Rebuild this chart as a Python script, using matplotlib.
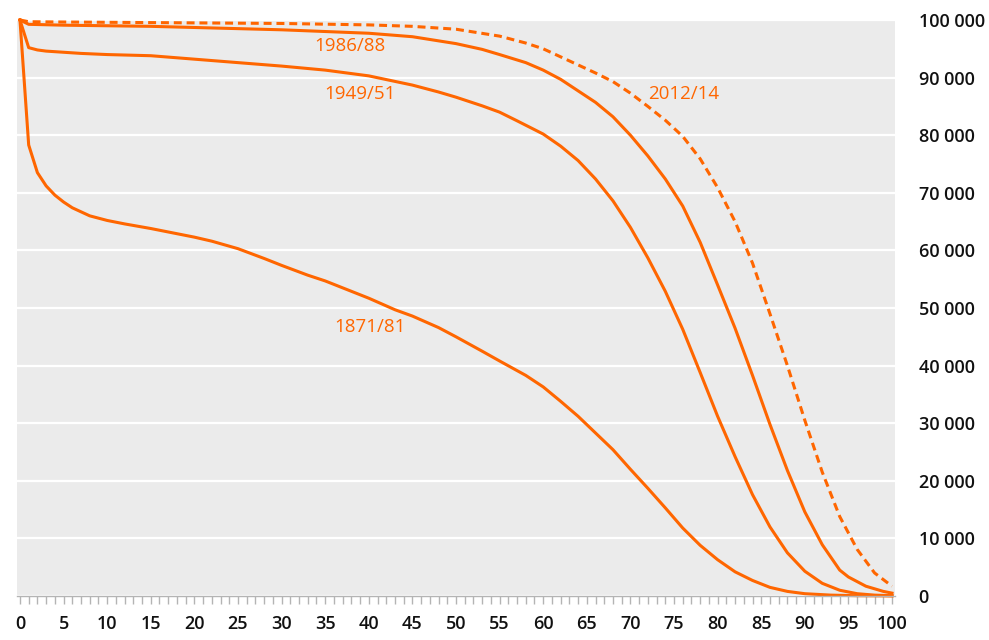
import matplotlib
matplotlib.use("Agg")
import matplotlib.pyplot as plt
from matplotlib.ticker import MultipleLocator, FuncFormatter

# ---- data (survivors out of 100 000 births) ----
ages_1871 = [0, 1, 2, 3, 4, 5, 6, 8, 10, 12, 15, 18, 20, 22, 25, 28, 30, 33, 35, 38, 40,
             43, 45, 48, 50, 53, 55, 58, 60, 62, 64, 66, 68, 70, 72, 74, 76, 78, 80,
             82, 84, 86, 88, 90, 93, 96, 100]
surv_1871 = [100000, 78300, 73500, 71200, 69600, 68400, 67400, 66000, 65200, 64600,
             63800, 62900, 62300, 61600, 60300, 58600, 57400, 55700, 54700, 52900,
             51700, 49700, 48600, 46600, 45000, 42500, 40800, 38300, 36300, 33800,
             31200, 28300, 25400, 22000, 18700, 15300, 11800, 8800, 6300, 4200, 2700,
             1500, 800, 400, 150, 50, 10]

ages_1949 = [0, 1, 2, 3, 5, 7, 10, 15, 20, 25, 30, 35, 40, 45, 48, 50, 53, 55, 57, 60,
             62, 64, 66, 68, 70, 72, 74, 76, 78, 80, 82, 84, 86, 88, 90, 92, 94, 96,
             98, 100]
surv_1949 = [100000, 95200, 94800, 94600, 94400, 94200, 94000, 93800, 93200, 92600,
             92000, 91300, 90300, 88700, 87500, 86600, 85100, 84000, 82500, 80200,
             78100, 75600, 72400, 68600, 64000, 58700, 52900, 46300, 38800, 31200,
             24200, 17600, 12000, 7500, 4300, 2200, 1000, 400, 150, 50]

ages_1986 = [0, 1, 5, 10, 15, 20, 25, 30, 35, 40, 45, 50, 53, 55, 58, 60, 62, 64, 66,
             68, 70, 72, 74, 76, 78, 80, 82, 84, 86, 88, 90, 92, 94, 95, 97, 99, 100]
surv_1986 = [100000, 99250, 99100, 99000, 98900, 98700, 98500, 98300, 98000, 97700,
             97100, 95900, 94900, 94000, 92600, 91300, 89700, 87700, 85700, 83200,
             80000, 76400, 72400, 67700, 61400, 54000, 46500, 38300, 29800, 21800,
             14600, 8900, 4500, 3300, 1700, 800, 500]

ages_2012 = [0, 1, 5, 10, 20, 30, 40, 45, 50, 55, 58, 60, 62, 64, 66, 68, 70, 72, 74,
             76, 78, 80, 82, 84, 86, 88, 90, 92, 94, 96, 98, 100]
surv_2012 = [100000, 99700, 99650, 99600, 99500, 99400, 99150, 98900, 98400, 97200,
             96000, 95000, 93600, 92200, 90800, 89300, 87300, 85000, 82600, 79800,
             75900, 70900, 65000, 57800, 49000, 40000, 30500, 21500, 13800, 8100,
             4000, 1700]

labels = ["1871/81", "1949/51", "1986/88", "2012/14"]
label_pos = [(370, 327), (360, 94), (350, 46), (684, 94)]  # pixel centres

ORANGE = "#ff6600"
BG = "#ebebeb"

W, H = 989, 640
fig = plt.figure(figsize=(W / 100, H / 100), dpi=100)
ax = fig.add_axes([17 / W, 1 - 596 / H, (895 - 17) / W, (596 - 20) / H])
ax.set_facecolor(BG)
ax.set_xlim(-0.34, 100.34)
ax.set_ylim(0, 100000)

ax.yaxis.set_major_locator(MultipleLocator(10000))
ax.grid(axis="y", color="white", linewidth=1.6)
ax.set_axisbelow(True)

lw = 2.2
ax.plot(ages_1871, surv_1871, color=ORANGE, lw=lw, clip_on=False, solid_joinstyle="round")
ax.plot(ages_1949, surv_1949, color=ORANGE, lw=lw, clip_on=False, solid_joinstyle="round")
ax.plot(ages_1986, surv_1986, color=ORANGE, lw=lw, clip_on=False, solid_joinstyle="round")
ax.plot(ages_2012, surv_2012, color=ORANGE, lw=lw, clip_on=False,
        linestyle=(0, (2.6, 1.6)))

font = "Open Sans"
for lab, (px, py) in zip(labels, label_pos):
    fig.text(px / W, 1 - py / H, lab, color=ORANGE, fontsize=13.5, family=font,
             ha="center", va="center")

for s in ["top", "left", "right"]:
    ax.spines[s].set_visible(False)
ax.spines["bottom"].set_color("#b4b4b4")
ax.spines["bottom"].set_linewidth(1.0)

ax.xaxis.set_major_locator(MultipleLocator(5))
ax.xaxis.set_minor_locator(MultipleLocator(1))
ax.tick_params(axis="x", which="both", direction="out", length=6, width=1,
               color="#b4b4b4", pad=8, labelsize=13, labelcolor="#111111")
ax.yaxis.tick_right()
ax.tick_params(axis="y", which="both", length=0, pad=17, labelsize=13,
               labelcolor="#111111")
ax.yaxis.set_major_formatter(FuncFormatter(
    lambda v, p: f"{int(v):,}".replace(",", " ")))
for t in ax.get_xticklabels() + ax.get_yticklabels():
    t.set_family(font)
    t.set_fontweight("semibold")

fig.savefig("out.png", dpi=100, facecolor="white")
